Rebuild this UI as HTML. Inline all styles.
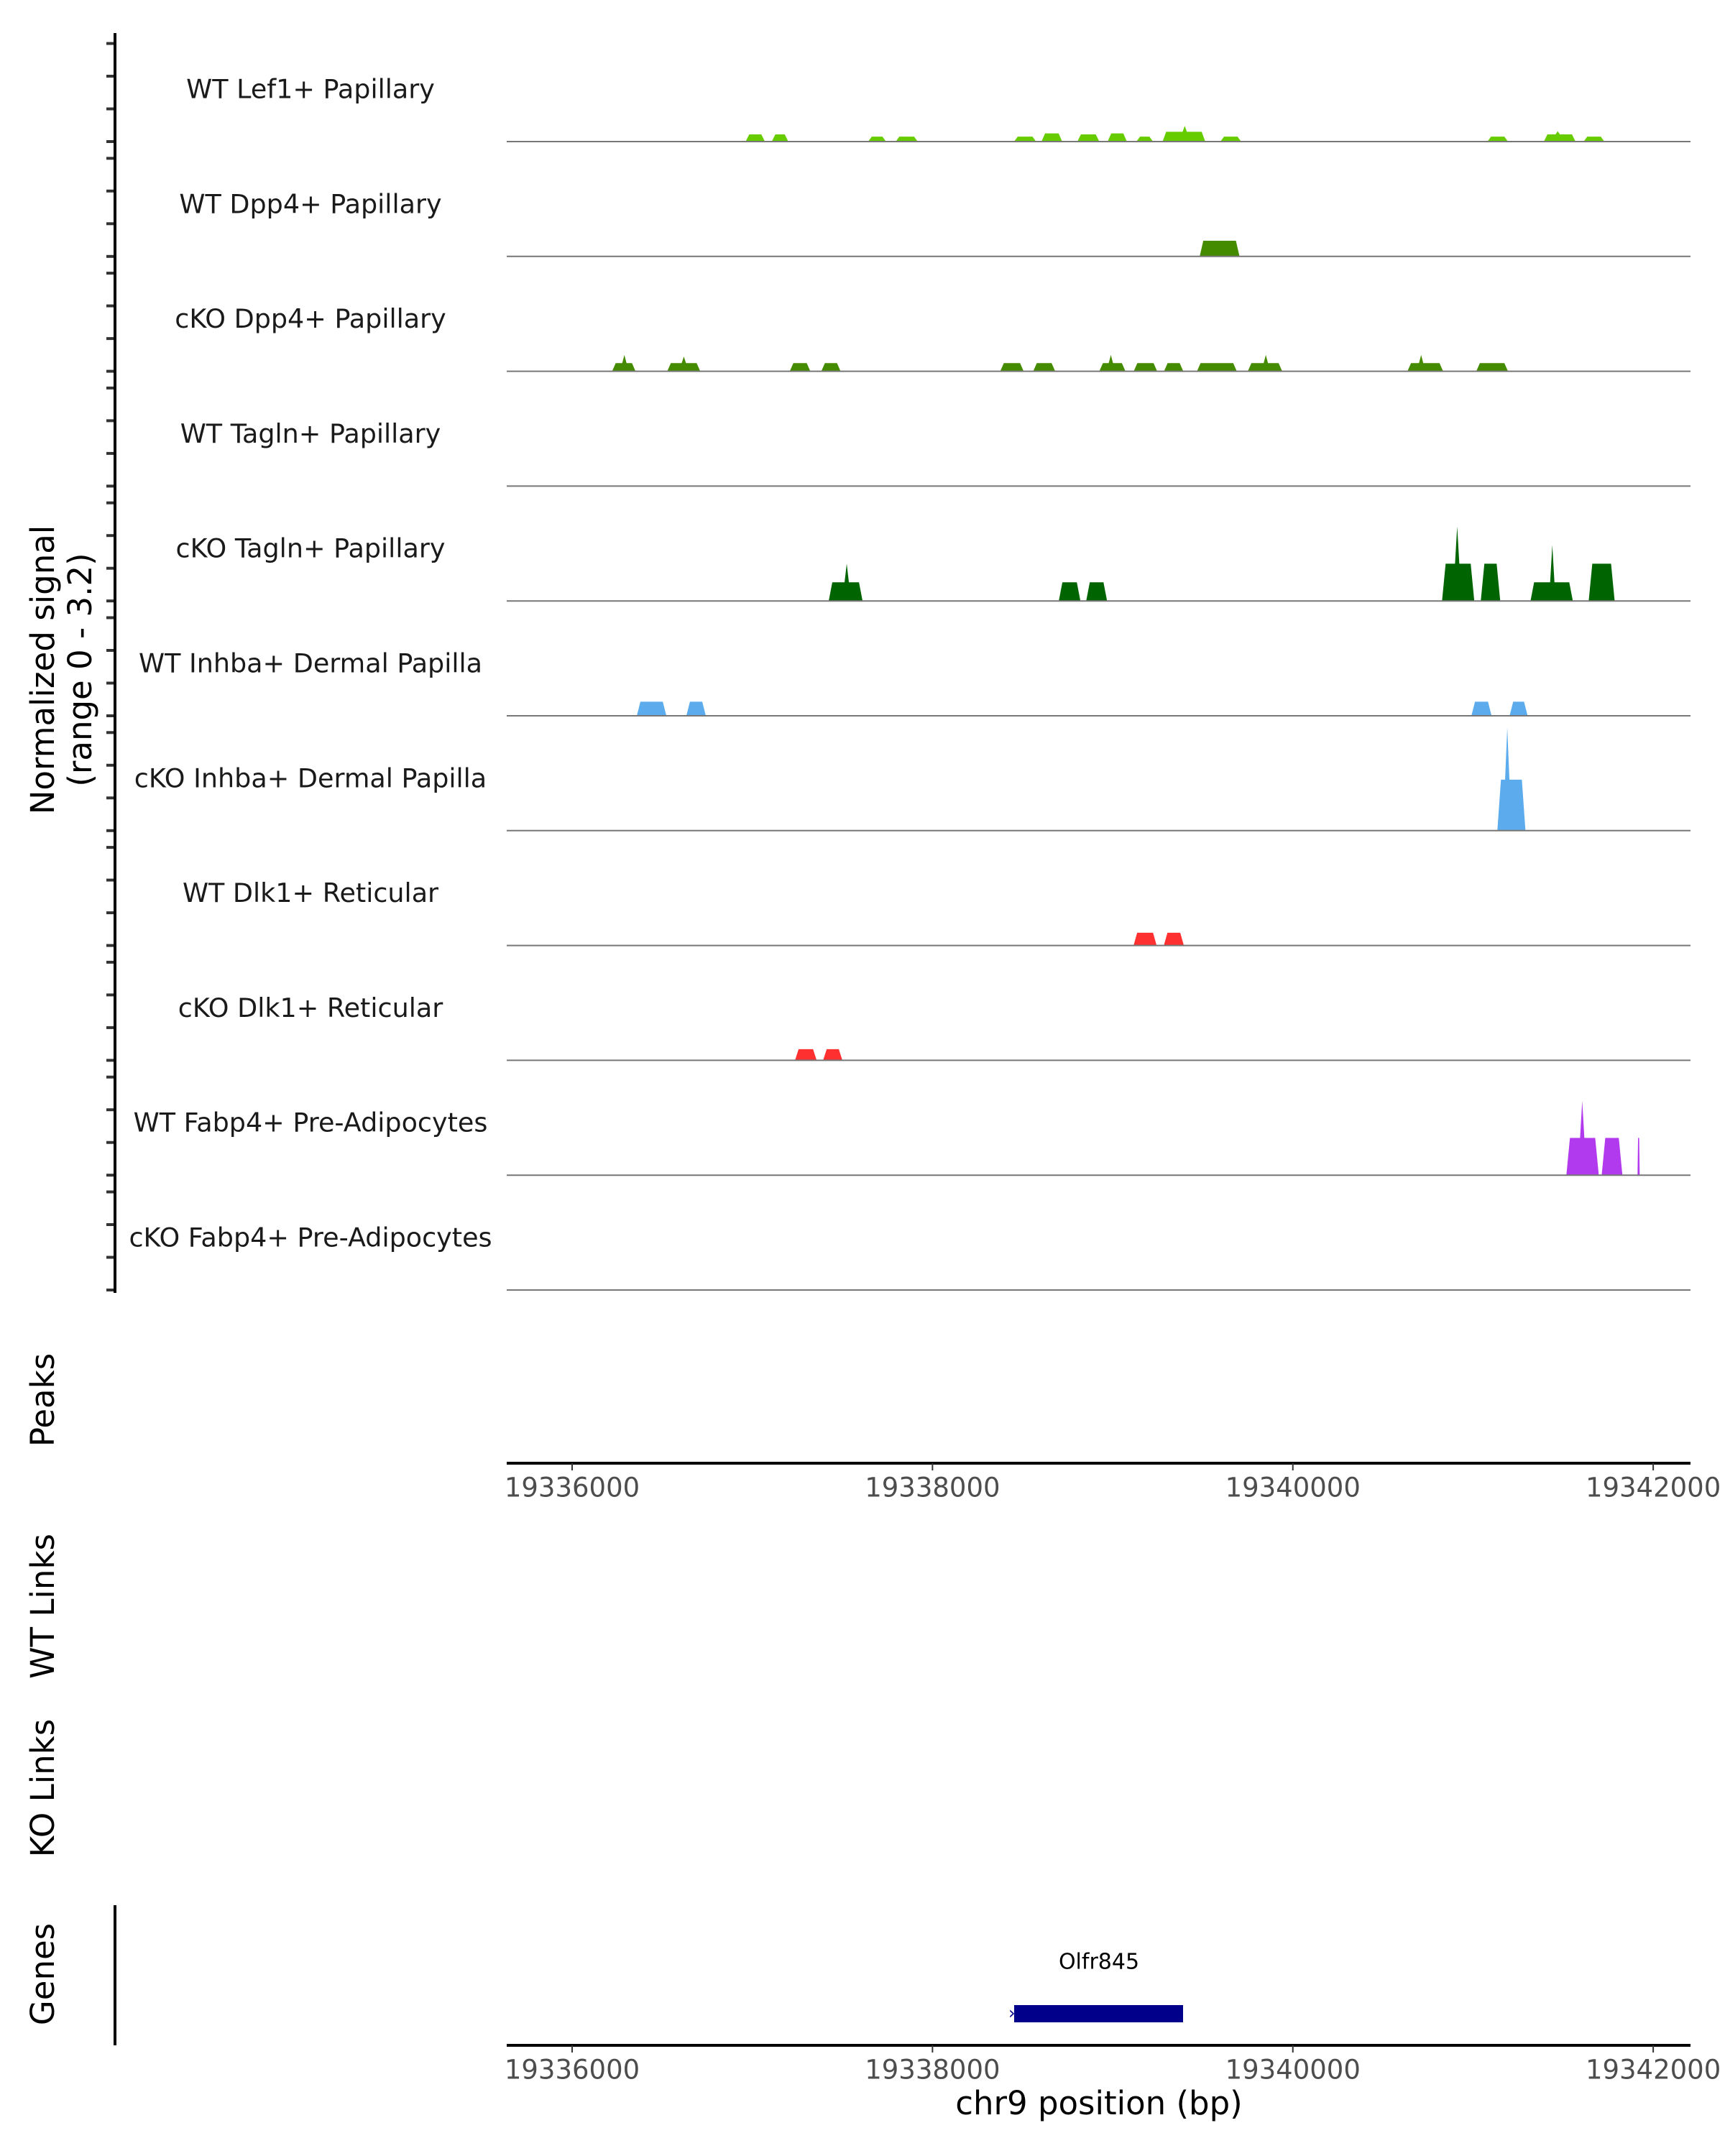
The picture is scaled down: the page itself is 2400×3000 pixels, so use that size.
<!DOCTYPE html>
<html><head><meta charset="utf-8"><style>
body{margin:0;background:#fff}
svg{display:block;font-family:"DejaVu Sans","Liberation Sans",sans-serif}
</style></head><body>
<svg id="chart" width="2400" height="3000" viewBox="0 0 2400 3000">
<g id="tracks"></g>
<g id="axes"></g>
<text x="63" y="932" transform="rotate(-90 63 932)" text-anchor="middle" dominant-baseline="middle" font-size="45">Normalized signal</text>
<text x="115" y="932" transform="rotate(-90 115 932)" text-anchor="middle" dominant-baseline="middle" font-size="45">(range 0 - 3.2)</text>
<text x="63" y="1948" transform="rotate(-90 63 1948)" text-anchor="middle" dominant-baseline="middle" font-size="45">Peaks</text>
<text x="63" y="2235" transform="rotate(-90 63 2235)" text-anchor="middle" dominant-baseline="middle" font-size="45">WT Links</text>
<text x="63" y="2488" transform="rotate(-90 63 2488)" text-anchor="middle" dominant-baseline="middle" font-size="45">KO Links</text>
<text x="63" y="2747" transform="rotate(-90 63 2747)" text-anchor="middle" dominant-baseline="middle" font-size="45">Genes</text>
<text x="1529" y="2930" text-anchor="middle" dominant-baseline="middle" font-size="45">chr9 position (bp)</text>
<line x1="160" y1="2651" x2="160" y2="2846" stroke="#000" stroke-width="4"/>
<g>
<rect x="1411" y="2790" width="235" height="24" fill="#00008b"/>
<text x="1403" y="2802" dominant-baseline="middle" font-size="24" fill="#00008b">›</text>
<text x="1529" y="2731" text-anchor="middle" dominant-baseline="middle" font-size="30">Olfr845</text>
</g>
</svg>
<script>
const trackNames=["WT Lef1+ Papillary","WT Dpp4+ Papillary","cKO Dpp4+ Papillary","WT Tagln+ Papillary","cKO Tagln+ Papillary","WT Inhba+ Dermal Papilla","cKO Inhba+ Dermal Papilla","WT Dlk1+ Reticular","cKO Dlk1+ Reticular","WT Fabp4+ Pre-Adipocytes","cKO Fabp4+ Pre-Adipocytes"];
const trackColors=["#66cc00","#458b00","#458b00","#006400","#006400","#5caced","#5caced","#ff3030","#ff3030","#b23aee","#b23aee"];
const tickLabels=["19336000","19338000","19340000","19342000"];
const tickValues=[19336000,19338000,19340000,19342000];
// peaks per track: [startBp, endBp, value, spikeBp, spikeValue]
const peaks0=[[19336963,19337070,0.22],[19337108,19337200,0.22],[19337643,19337742,0.15],[19337796,19337918,0.15],[19338453,19338575,0.15],[19338605,19338720,0.25],[19338804,19338926,0.22],[19338972,19339079,0.25],[19339132,19339224,0.15],[19339277,19339514,0.3,19339400,0.48],[19339598,19339713,0.15],[19341080,19341194,0.15],[19341393,19341569,0.22,19341470,0.32],[19341614,19341729,0.15]];
const peaks1=[[19339483,19339704,0.48]];
const peaks2=[[19336222,19336352,0.25,19336290,0.5],[19336528,19336711,0.25,19336620,0.45],[19337208,19337322,0.25],[19337383,19337490,0.25],[19338376,19338506,0.25],[19338559,19338681,0.25],[19338926,19339071,0.25,19338990,0.5],[19339117,19339247,0.25],[19339285,19339392,0.25],[19339468,19339689,0.25],[19339750,19339941,0.25,19339850,0.5],[19340636,19340834,0.25,19340712,0.5],[19341018,19341194,0.25]];
const peaks3=[];
const peaks4=[[19337424,19337612,0.57,19337524,1.14],[19338701,19338821,0.57],[19338853,19338969,0.57],[19340828,19341007,1.14,19340912,2.28],[19341043,19341151,1.14],[19341319,19341554,0.57,19341440,1.71],[19341642,19341786,1.14]];
const peaks5=[[19336359,19336523,0.43],[19336634,19336742,0.43],[19340991,19341103,0.43],[19341203,19341303,0.43]];
const peaks6=[[19341135,19341291,1.56,19341190,3.15]];
const peaks7=[[19339116,19339244,0.39],[19339284,19339395,0.39]];
const peaks8=[[19337237,19337357,0.34],[19337393,19337500,0.34]];
const peaks9=[[19341518,19341698,1.14,19341606,2.27],[19341714,19341829,1.14],[19341913,19341925,1.14]];
const peaks10=[];
const allPeaks=[peaks0,peaks1,peaks2,peaks3,peaks4,peaks5,peaks6,peaks7,peaks8,peaks9,peaks10];

const NS="http://www.w3.org/2000/svg";
const X0=705,X1=2352,BP0=19335637,BP1=19342207;
function xs(bp){return X0+(bp-BP0)/(BP1-BP0)*(X1-X0);}
const PX_PER_UNIT=45.5;
function baseY(i){return 197+i*159.8;}
function ys(i,v){return baseY(i)-v*PX_PER_UNIT;}
function mk(tag,attrs,parent){const e=document.createElementNS(NS,tag);for(const k in attrs)e.setAttribute(k,attrs[k]);parent.appendChild(e);return e;}
const tracks=document.getElementById('tracks');
const axes=document.getElementById('axes');
trackNames.forEach((name,i)=>{
  const g=mk('g',{},tracks);
  
  
  const b=baseY(i);
  allPeaks[i].forEach(p=>{
    const x1=xs(p[0]),x2=xs(p[1]),sl=Math.min(5,(x2-x1)/4);
    let pts=[[x1,b],[x1+sl,ys(i,p[2])]];
    if(p.length>3){const sx=xs(p[3]);pts.push([sx-3,ys(i,p[2])],[sx,ys(i,p[4])],[sx+3,ys(i,p[2])]);}
    pts.push([x2-sl,ys(i,p[2])],[x2,b]);
    const poly=mk('polygon',{points:pts.map(q=>q.join(',')).join(' '),fill:trackColors[i]},g);
    
    
  });
  const bl=mk('line',{x1:X0,x2:X1,y1:b,y2:b,stroke:'#777','stroke-width':2},g);
  
  
  const t=mk('text',{x:432,y:b-71,'text-anchor':'middle','dominant-baseline':'middle','font-size':36.5,fill:'#1a1a1a'},g);
  t.textContent=name;
  
  
  for(let k=0;k<4;k++){
    const tk=mk('line',{x1:148,x2:160,y1:ys(i,k),y2:ys(i,k),stroke:'#333','stroke-width':4},axes);
    
    
  }
});
const ya=mk('line',{x1:160,x2:160,y1:46,y2:1799,stroke:'#000','stroke-width':4},axes);


[2036,2846].forEach((ay,j)=>{
  const l=mk('line',{x1:X0,x2:X1,y1:ay,y2:ay,stroke:'#000','stroke-width':4},axes);
  
  
  tickValues.forEach((v,k)=>{
    const tk=mk('line',{x1:xs(v),x2:xs(v),y1:ay,y2:ay+10,stroke:'#333','stroke-width':2},axes);
    
    
    const tl=mk('text',{x:xs(v),y:ay+36,'text-anchor':'middle','dominant-baseline':'middle','font-size':37,fill:'#4d4d4d'},axes);
    tl.textContent=tickLabels[k];
    
    
  });
});
</script>
</body></html>
